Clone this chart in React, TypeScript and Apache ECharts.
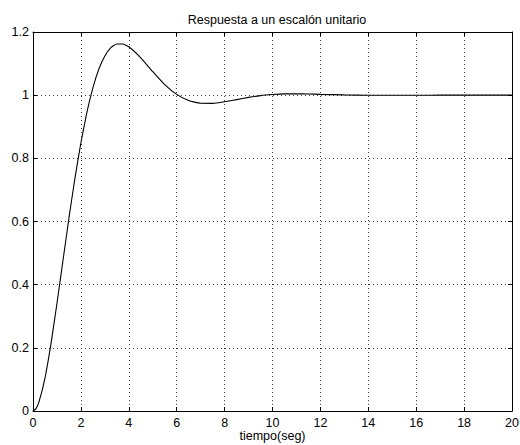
import React, { useEffect, useRef } from "react";
import * as echarts from "echarts";

// Unit step response of the closed loop, sampled in seconds
const tiempo = [
  0, 0.125, 0.25, 0.5, 0.75, 1, 1.25, 1.5, 1.75, 2, 2.25, 2.5, 2.75, 3, 3.25, 3.5, 3.75,
  4, 4.5, 5, 5.5, 6, 6.5, 7, 7.5, 8, 8.5, 9, 9.5, 10, 10.5, 11, 11.5, 12, 13, 14, 15,
  16, 17, 18, 19, 20,
];
const respuesta = [
  0, 0.0075, 0.0286, 0.1044, 0.2127, 0.3403, 0.4758, 0.6105, 0.7366, 0.8494, 0.9455,
  1.0232, 1.083, 1.1243, 1.1506, 1.1619, 1.1619, 1.1533, 1.1184, 1.0744, 1.0336, 1.0024,
  0.9829, 0.9743, 0.9741, 0.979, 0.986, 0.993, 0.9986, 1.0019, 1.004, 1.0042, 1.0037,
  1.0026, 1.0008, 0.9998, 0.9996, 0.9999, 1.0, 1.0, 1.0, 1.0,
];
const xTicks = { min: 0, max: 20, step: 2 };
const yTicks = { min: 0, max: 1.2, step: 0.2 };

const FONT = "'Liberation Sans', Arial, Helvetica, sans-serif";
const FONT_SIZE = 12.5;

export default function App() {
  const ref = useRef<HTMLDivElement>(null);

  useEffect(() => {
    if (!ref.current) return;
    const chart = echarts.init(ref.current, null, { renderer: "svg" });
    const fmt = (v: number) => String(parseFloat(v.toFixed(1)));
    const gridLine = { show: true, lineStyle: { color: "#444", type: [1, 3], width: 1 } };
    const tick = { show: true, inside: true, length: 4, lineStyle: { color: "#000" } };
    const line = { show: true, onZero: false, lineStyle: { color: "#000", width: 1 } };
    const label = { color: "#000", fontFamily: FONT, fontSize: FONT_SIZE };

    chart.setOption({
      animation: false,
      backgroundColor: "#fff",
      title: {
        text: "Respuesta a un escalón unitario",
        left: 272,
        top: 8,
        textAlign: "center",
        textStyle: { fontFamily: FONT, fontSize: FONT_SIZE, fontWeight: "normal", color: "#000" },
      },
      grid: { left: 33, right: 8, top: 32, bottom: 34, outerBoundsMode: "none", containLabel: false },
      xAxis: [
        {
          type: "value",
          min: xTicks.min,
          max: xTicks.max,
          interval: xTicks.step,
          position: "bottom",
          axisLine: line,
          axisTick: tick,
          splitLine: gridLine,
          axisLabel: { ...label, margin: 5, formatter: fmt },
          name: "tiempo(seg)",
          nameLocation: "middle",
          nameGap: 18,
          nameMoveOverlap: false,
          nameTextStyle: { ...label },
        },
        {
          type: "value",
          min: xTicks.min,
          max: xTicks.max,
          interval: xTicks.step,
          position: "top",
          axisLine: line,
          axisTick: tick,
          splitLine: { show: false },
          axisLabel: { show: false },
        },
      ],
      yAxis: [
        {
          type: "value",
          min: yTicks.min,
          max: yTicks.max,
          interval: yTicks.step,
          position: "left",
          axisLine: line,
          axisTick: tick,
          splitLine: gridLine,
          axisLabel: { ...label, margin: 4, formatter: fmt },
        },
        {
          type: "value",
          min: yTicks.min,
          max: yTicks.max,
          interval: yTicks.step,
          position: "right",
          axisLine: line,
          axisTick: tick,
          splitLine: { show: false },
          axisLabel: { show: false },
        },
      ],
      series: [
        {
          type: "line",
          data: tiempo.map((t, i) => [t, respuesta[i]]),
          showSymbol: false,
          smooth: 0.15,
          lineStyle: { color: "#000", width: 1.1 },
          xAxisIndex: 0,
          yAxisIndex: 0,
        },
      ],
    });
    return () => chart.dispose();
  }, []);

  return (
    <div
      ref={ref}
      style={{ position: "fixed", left: 0, top: 0, width: 520, height: 445, background: "#fff" }}
    />
  );
}
